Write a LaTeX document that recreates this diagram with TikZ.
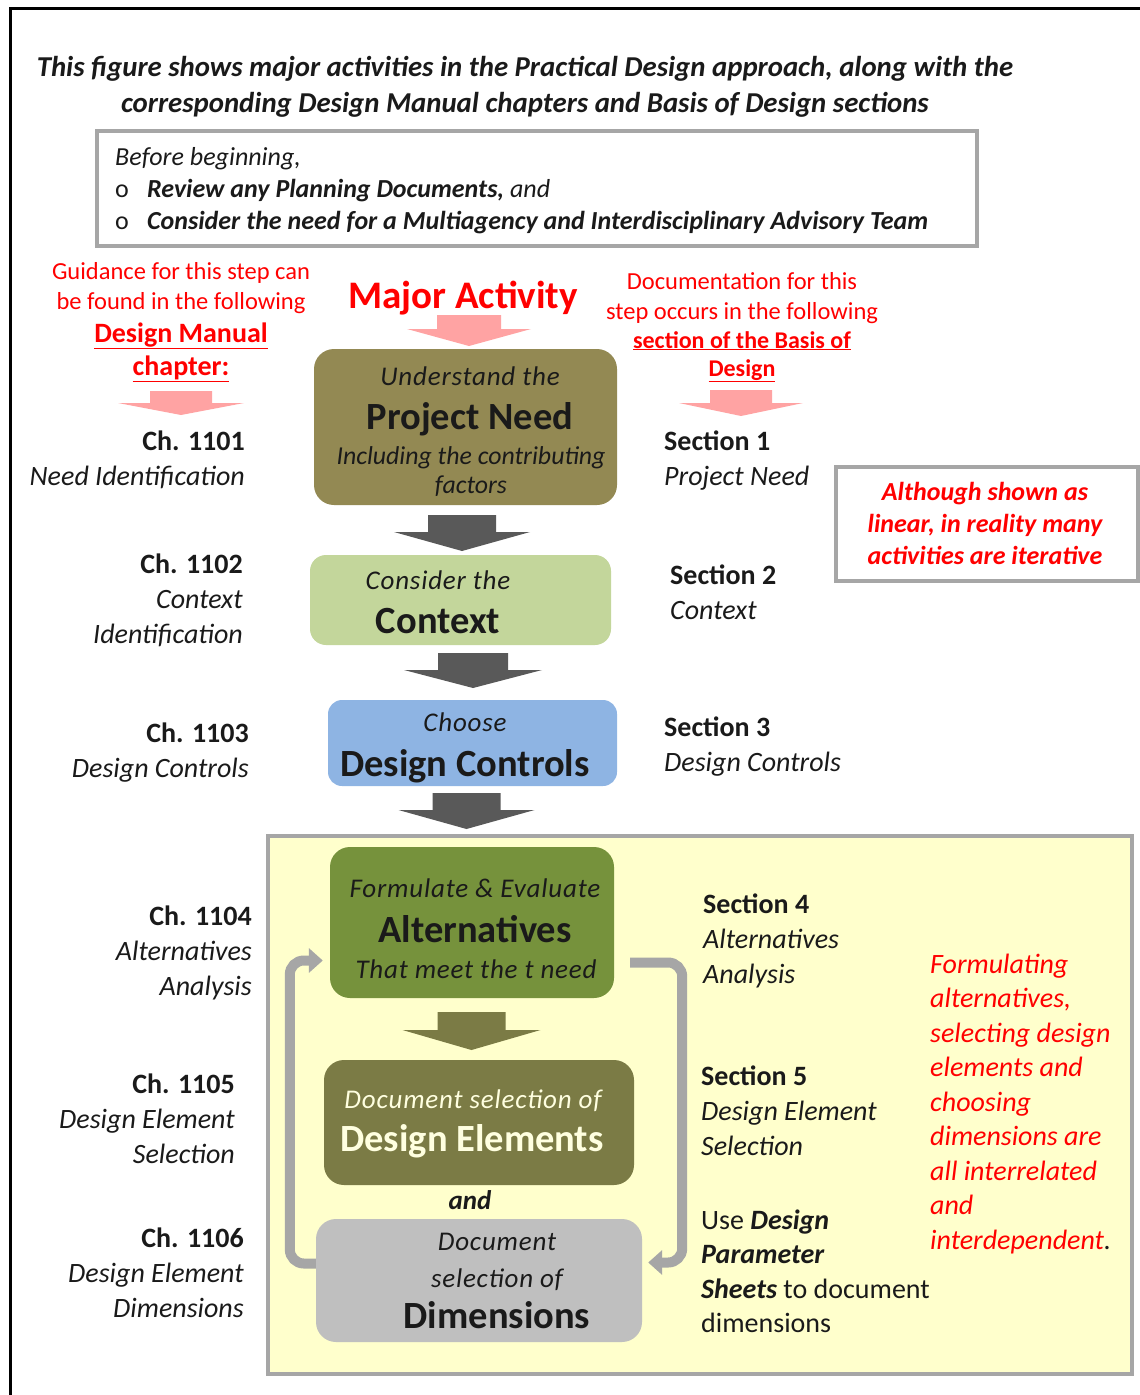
\documentclass[tikz,border=0pt]{standalone}
\usepackage{fontspec}
\setmainfont{Carlito}
\newfontfamily\spacedfont[LetterSpace=3]{Carlito}
\usetikzlibrary{arrows.meta}
\definecolor{inkcol}{HTML}{1A1A1A}
\definecolor{framegray}{HTML}{A6A6A6}
\definecolor{needcol}{HTML}{938953}
\definecolor{contextcol}{HTML}{C3D69B}
\definecolor{controlcol}{HTML}{8EB4E3}
\definecolor{altcol}{HTML}{76923C}
\definecolor{elemcol}{HTML}{7B7B45}
\definecolor{dimcol}{HTML}{BFBFBF}
\definecolor{darkarrow}{HTML}{595959}
\definecolor{pinkarrow}{HTML}{FFA3A3}
\definecolor{notecol}{HTML}{FFFFCC}
\definecolor{creamcol}{HTML}{FFFFE0}
\tikzset{
  lbl/.style={inner sep=0pt, text=inkcol, font=\fontsize{28}{35}\selectfont},
  chlabel/.style={lbl, align=right, anchor=base east},
  seclabel/.style={lbl, align=left, anchor=base west},
  redtxt/.style={inner sep=0pt, text=red, align=center, anchor=base, font=\fontsize{24.5}{30}\selectfont},
  stepbox/.style={rounded corners=20pt, inner sep=0pt},
  boxtxt/.style={inner sep=0pt, text=inkcol, anchor=base, font=\spacedfont\itshape\fontsize{27}{30}\selectfont},
  boxtitle/.style={inner sep=0pt, text=inkcol, anchor=base, font=\bfseries\fontsize{38.5}{40}\selectfont},
  looparrow/.style={draw=framegray, line width=10pt, rounded corners=14pt, -{Triangle[width=24pt,length=14pt]}},
}
% block arrow: style, x, top, neck, tip, shaft half width, head half width
\newcommand{\blockarrow}[7]{%
  \fill[#1] (#2-#6,#3) -- (#2+#6,#3) -- (#2+#6,#4) -- (#2+#7,#4) -- (#2,#5) -- (#2-#7,#4) -- (#2-#6,#4) -- cycle;}
\begin{document}
\begin{tikzpicture}[x=1pt,y=-1pt]
\useasboundingbox (0,0) rectangle (1140,1395);
% Outer frame
\draw[line width=3pt] (10,1395) -- (10,8) -- (1140,8);
% Title
\node[inner sep=0pt, anchor=base, align=center, text=inkcol, font=\bfseries\itshape\fontsize{28.8}{36}\selectfont] (title) at (525,112)
  {This figure shows major activities in the Practical Design approach, along with the\\corresponding Design Manual chapters and Basis of Design sections};
% Before beginning box
\draw[framegray, line width=4pt, fill=white] (97,131) rectangle (977,246);
\node[inner sep=0pt, anchor=base west, align=left, text=inkcol, font=\itshape\fontsize{26}{32}\selectfont] (before) at (115,229)
  {Before beginning,\\\makebox[32pt][l]{\upshape o}\textbf{Review any Planning Documents,} and\\\makebox[32pt][l]{\upshape o}\textbf{Consider the need for a Multiagency and Interdisciplinary Advisory Team}};
% Column headings
\node[redtxt] (guide) at (181,309) {Guidance for this step can\\be found in the following};
\node[redtxt, font=\bfseries\fontsize{28}{33}\selectfont] (manual) at (181,375) {\underline{Design Manual}\\\underline{chapter:}};
\node[redtxt, font=\bfseries\fontsize{39}{40}\selectfont] (major) at (463,308) {Major Activity};
\node[redtxt] (docu) at (742,319) {Documentation for this\\step occurs in the following};
\node[redtxt, font=\bfseries\fontsize{24}{28}\selectfont] (basis) at (742,376) {\underline{section of the Basis of}\\\underline{Design}};
\blockarrow{pinkarrow}{181}{391}{403}{415}{31}{63}
\blockarrow{pinkarrow}{469}{315}{329}{346}{32}{62}
\blockarrow{pinkarrow}{741}{390}{403}{416}{31}{62}
% Iterative note
\draw[framegray, line width=4pt, fill=white] (836,467) rectangle (1138,581);
\node[inner sep=0pt, anchor=base, align=center, text=red, font=\bfseries\itshape\fontsize{26}{32}\selectfont] (iter) at (985,564)
  {Although shown as\\linear, in reality many\\activities are iterative};
% Yellow region
\draw[framegray, line width=4pt, fill=notecol] (268,836) rectangle (1132,1374);
% Activity boxes
\node[stepbox, fill=needcol, minimum width=303pt, minimum height=156pt] (need) at (465.5,427) {};
\node[stepbox, fill=contextcol, minimum width=301pt, minimum height=90pt, rounded corners=16pt] (context) at (460.5,600) {};
\node[stepbox, fill=controlcol, minimum width=289pt, minimum height=86pt, rounded corners=14pt] (controls) at (472.5,743) {};
\node[stepbox, fill=altcol, minimum width=284pt, minimum height=151pt] (alt) at (472,922.5) {};
\node[stepbox, fill=elemcol, minimum width=310pt, minimum height=125pt] (elem) at (479,1122.5) {};
\node[stepbox, fill=dimcol, minimum width=326pt, minimum height=123pt] (dims) at (479,1280.5) {};
% Box texts
\node[boxtxt] (needa) at (470,385) {Understand the};
\node[boxtitle] (needb) at (470,429) {Project Need};
\node[boxtxt, align=center, font=\itshape\fontsize{25.8}{29}\selectfont] (needc) at (471,493) {Including the contributing\\factors};
\node[boxtxt] (contexta) at (438,589) {Consider the};
\node[boxtitle] (contextb) at (438,633) {Context};
\node[boxtxt] (controlsa) at (465,731) {Choose};
\node[boxtitle] (controlsb) at (465,776) {Design Controls};
\node[boxtxt] (alta) at (475,897) {Formulate \& Evaluate};
\node[boxtitle] (altb) at (475,942) {Alternatives};
\node[boxtxt] (altc) at (476,978) {That meet the t need};
\node[boxtxt, text=creamcol] (elema) at (473,1108) {Document selection of};
\node[boxtitle, text=creamcol] (elemb) at (472,1151) {Design Elements};
\node[boxtxt, font=\bfseries\itshape\fontsize{27}{30}\selectfont] (andtxt) at (470,1209) {and};
\node[boxtxt, align=center, font=\spacedfont\itshape\fontsize{27}{37}\selectfont] (dimsa) at (497,1287) {Document\\selection of};
\node[boxtitle] (dimsb) at (497,1328) {Dimensions};
% Block arrows between boxes
\blockarrow{darkarrow}{462}{515}{532}{551}{34}{68}
\blockarrow{darkarrow}{473}{653}{670}{688}{35}{69}
\blockarrow{darkarrow}{466.5}{793}{810}{829}{34}{68}
\blockarrow{elemcol}{471.5}{1012}{1030}{1050}{34}{69}
% Iteration loops
\draw[looparrow] ([xshift=16pt,yshift=-40pt]alt.east) -- ++(52,0) |- ([xshift=6pt,yshift=18pt]dims.east);
\draw[looparrow] ([yshift=17pt]dims.west) -- ++(-26,0) |- ([xshift=-7pt,yshift=-38pt]alt.west);
% Chapter labels
\node[chlabel] (ch1) at (245,485) {\textbf{Ch. 1101}\\\textit{Need Identification}};
\node[chlabel] (ch2) at (243,643) {\textbf{Ch. 1102}\\\textit{Context}\\\textit{Identification}};
\node[chlabel] (ch3) at (249,777) {\textbf{Ch. 1103}\\\textit{Design Controls}};
\node[chlabel] (ch4) at (252,995) {\textbf{Ch. 1104}\\\textit{Alternatives}\\\textit{Analysis}};
\node[chlabel] (ch5) at (235,1163) {\textbf{Ch. 1105}\\\textit{Design Element}\\\textit{Selection}};
\node[chlabel] (ch6) at (244,1317) {\textbf{Ch. 1106}\\\textit{Design Element}\\\textit{Dimensions}};
% Section labels
\node[seclabel] (sec1) at (664,485) {\textbf{Section 1}\\\textit{Project Need}};
\node[seclabel] (sec2) at (670,619) {\textbf{Section 2}\\\textit{Context}};
\node[seclabel] (sec3) at (664,771) {\textbf{Section 3}\\\textit{Design Controls}};
\node[seclabel] (sec4) at (703,983) {\textbf{Section 4}\\\textit{Alternatives}\\\textit{Analysis}};
\node[seclabel] (sec5) at (701,1155) {\textbf{Section 5}\\\textit{Design Element}\\\textit{Selection}};
\node[seclabel, font=\fontsize{28}{34.5}\selectfont] (sheets) at (701,1332.5) {Use \textbf{\textit{Design}}\\\textbf{\textit{Parameter}}\\\textbf{\textit{Sheets}} to document\\dimensions};
% Interrelation note
\node[inner sep=0pt, anchor=base west, align=left, text=red, font=\itshape\fontsize{28}{34.5}\selectfont] (relnote) at (930,1249)
  {Formulating\\alternatives,\\selecting design\\elements and\\choosing\\dimensions are\\all interrelated\\and\\interdependent{\color{inkcol}.}};
\end{tikzpicture}
\end{document}
